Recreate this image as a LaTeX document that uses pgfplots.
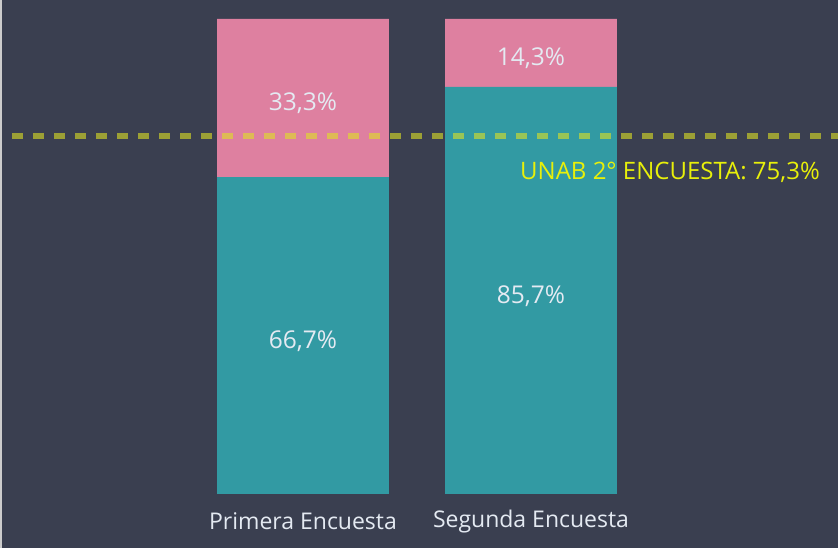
\documentclass[border=0pt]{standalone}
\usepackage{pgfplots}
\pgfplotsset{compat=1.18}
\usepackage{fontspec}
\setmainfont{Open Sans}
\definecolor{bgcol}{RGB}{58,63,80}
\definecolor{tealc}{RGB}{50,154,163}
\definecolor{pinkc}{RGB}{222,128,160}
\definecolor{linec}{RGB}{222,226,35}
\definecolor{labc}{RGB}{232,240,10}
\definecolor{txtc}{RGB}{228,234,242}
\begin{document}
\begin{tikzpicture}
\fill[bgcol] (0,0) rectangle (838bp,548bp);
\fill[black!20] (0,0) rectangle (2bp,548bp);
\begin{axis}[
  at={(0,54bp)}, anchor=south west,
  scale only axis, width=838bp, height=494bp,
  xmin=-1.3289, xmax=2.3465, ymin=0, ymax=104.0,
  hide axis, clip=false,
  ybar stacked, bar width=0.754,
  xtick=data, ytick=\empty,
]
\addplot[fill=tealc, draw=none] coordinates {(0,66.7) (1,85.7)};
\addplot[fill=pinkc, draw=none] coordinates {(0,33.3) (1,14.3)};
\end{axis}
\begin{axis}[
  at={(0,54bp)}, anchor=south west,
  scale only axis, width=838bp, height=494bp,
  xmin=-1.3289, xmax=2.3465, ymin=0, ymax=104.0,
  hide axis, clip=false, ticks=none,
]
\addplot[linec, line width=6bp, opacity=0.6, dash pattern=on 11bp off 10bp] coordinates {(-1.276,75.3) (2.3465,75.3)};
\node[text=txtc, font=\fontsize{23bp}{27bp}\selectfont] at (axis cs:0,-5.7) {Primera Encuesta};
\node[text=txtc, font=\fontsize{23bp}{27bp}\selectfont] at (axis cs:1,-5.7) {Segunda Encuesta};
\node[text=txtc, font=\fontsize{24.5bp}{28bp}\selectfont] at (axis cs:0,32.2) {66,7\%};
\node[text=txtc, font=\fontsize{24.5bp}{28bp}\selectfont] at (axis cs:0,82.2) {33,3\%};
\node[text=txtc, font=\fontsize{24.5bp}{28bp}\selectfont] at (axis cs:1,41.7) {85,7\%};
\node[text=txtc, font=\fontsize{24.5bp}{28bp}\selectfont] at (axis cs:1,91.7) {14,3\%};
\node[text=labc, font=\fontsize{24bp}{28bp}\selectfont, anchor=east, inner sep=0pt] at (axis cs:2.2675,67.8) {UNAB 2° ENCUESTA: 75,3\%};
\end{axis}
\pgfresetboundingbox
\useasboundingbox (0,0) rectangle (838bp,548bp);
\end{tikzpicture}
\end{document}
